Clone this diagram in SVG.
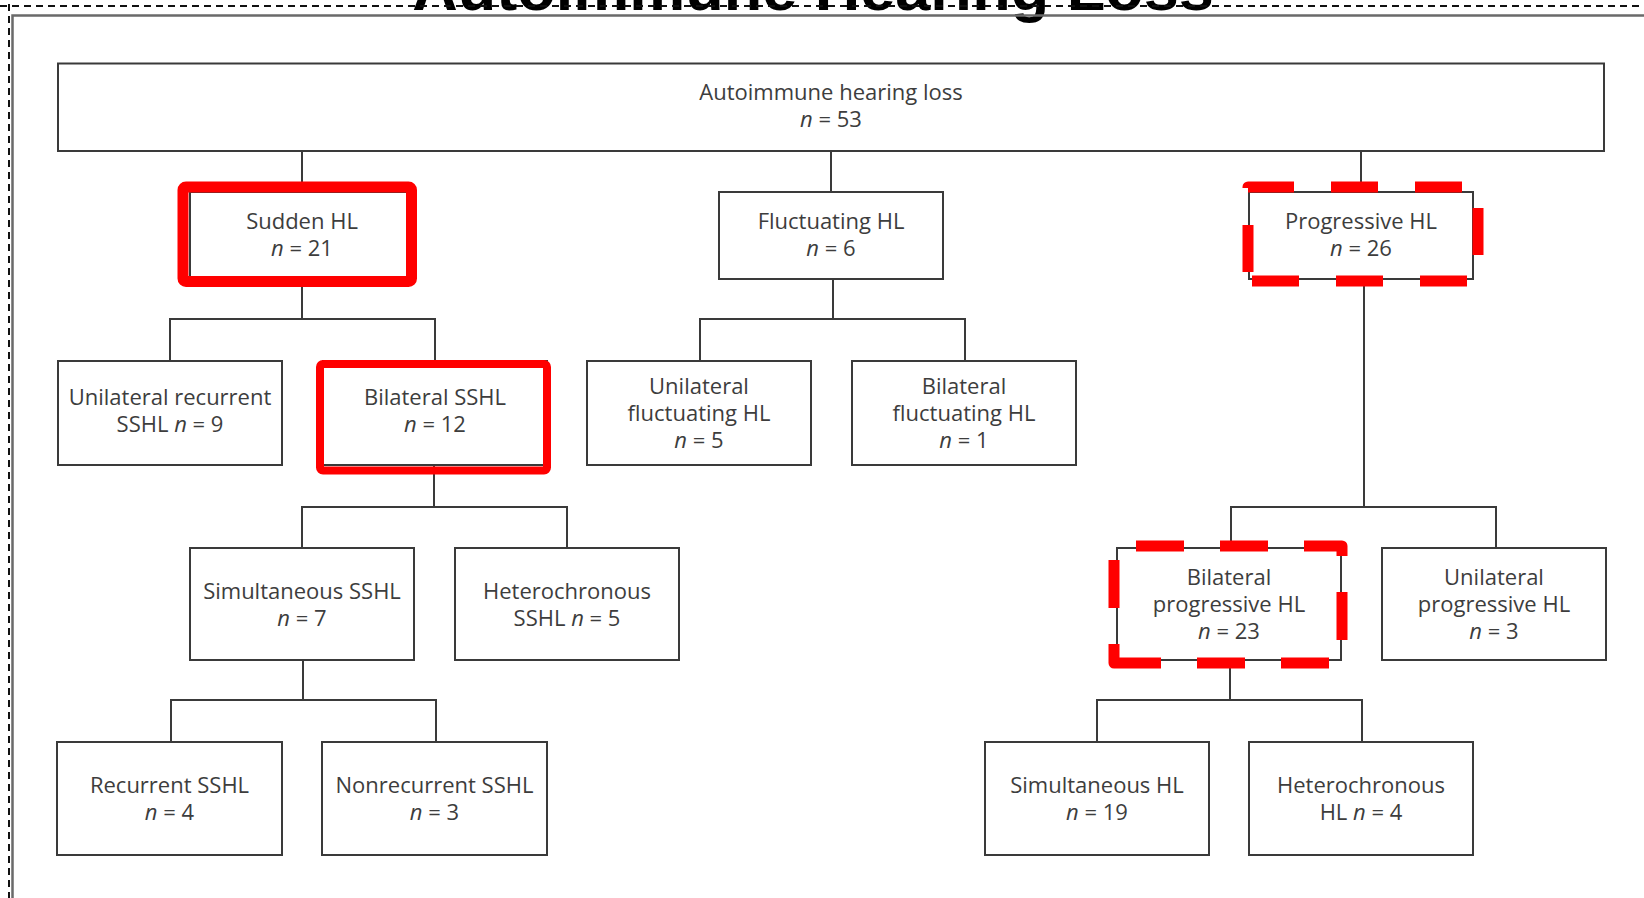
<svg xmlns="http://www.w3.org/2000/svg" width="1644" height="898" viewBox="0 0 1644 898">
<style>
  .box { fill: #ffffff; stroke: #3a3a3a; stroke-width: 2; }
  .conn { fill: none; stroke: #3a3a3a; stroke-width: 2; }
  .lbl { font-family: "Open Sans", "Noto Sans", "DejaVu Sans", sans-serif; font-size: 22px; fill: #3d3d3d; text-anchor: middle; }
  .it { font-style: italic; }
  .hl { fill: none; stroke: #ff0000; }
  .hld { fill: none; stroke: #ff0000; stroke-width: 11; stroke-linejoin: round; }
</style>
<rect x="0" y="0" width="1644" height="898" fill="#ffffff"/>
<g id="frame">
  <text x="813" y="10" font-family="Liberation Sans, Arial, sans-serif" font-size="63" font-weight="bold" fill="#000" text-anchor="middle">Autoimmune Hearing Loss</text>
  <line x1="0" y1="6" x2="1644" y2="6" stroke="#111" stroke-width="2" stroke-dasharray="7 5"/>
  <line x1="9" y1="4" x2="9" y2="898" stroke="#111" stroke-width="2" stroke-dasharray="7 5"/>
  <path d="M12.5,898 V15.5 H1644" fill="none" stroke="#6a6a6a" stroke-width="2.5"/>
</g>
<g id="connectors">
  <path class="conn" d="M302,151 V192 M831,151 V192 M1361,151 V192"/>
  <path class="conn" d="M302,279 V319 M170,361 V319 H435 V361"/>
  <path class="conn" d="M833,279 V319 M700,361 V319 H965 V361"/>
  <path class="conn" d="M1364,279 V507 M1231,548 V507 H1496 V548"/>
  <path class="conn" d="M434,465 V507 M302,548 V507 H567 V548"/>
  <path class="conn" d="M303,660 V700 M171,742 V700 H436 V742"/>
  <path class="conn" d="M1230,660 V700 M1097,742 V700 H1362 V742"/>
</g>
<g id="n-root">
  <rect class="box" x="58" y="63.5" width="1546" height="87.5"/>
  <text class="lbl" x="831" y="100">Autoimmune hearing loss</text>
  <text class="lbl" x="831" y="127"><tspan class="it">n</tspan> = 53</text>
</g>
<g id="n-sudden">
  <rect class="box" x="190" y="192" width="224" height="87"/>
  <text class="lbl" x="302" y="229">Sudden HL</text>
  <text class="lbl" x="302" y="256"><tspan class="it">n</tspan> = 21</text>
  <rect class="hl" x="183" y="187" width="228.5" height="94.5" rx="3" stroke-width="11"/>
</g>
<g id="n-fluct">
  <rect class="box" x="719" y="192" width="224" height="87"/>
  <text class="lbl" x="831" y="229">Fluctuating HL</text>
  <text class="lbl" x="831" y="256"><tspan class="it">n</tspan> = 6</text>
</g>
<g id="n-prog">
  <rect class="box" x="1249" y="192" width="224" height="87"/>
  <text class="lbl" x="1361" y="229">Progressive HL</text>
  <text class="lbl" x="1361" y="256"><tspan class="it">n</tspan> = 26</text>
  <path class="hld" d="M1248,272 V187 H1478 V281 H1248 Z" stroke-dasharray="47 37"/>
</g>
<g id="n-unirec">
  <rect class="box" x="58" y="361" width="224" height="104"/>
  <text class="lbl" x="170" y="405">Unilateral recurrent</text>
  <text class="lbl" x="170" y="432">SSHL <tspan class="it">n</tspan> = 9</text>
</g>
<g id="n-bisshl">
  <rect class="box" x="323" y="361" width="224" height="104"/>
  <text class="lbl" x="435" y="405">Bilateral SSHL</text>
  <text class="lbl" x="435" y="432"><tspan class="it">n</tspan> = 12</text>
  <rect class="hl" x="320" y="364" width="227" height="106.5" rx="3" stroke-width="8"/>
</g>
<g id="n-unifl">
  <rect class="box" x="587" y="361" width="224" height="104"/>
  <text class="lbl" x="699" y="394">Unilateral</text>
  <text class="lbl" x="699" y="421">fluctuating HL</text>
  <text class="lbl" x="699" y="448"><tspan class="it">n</tspan> = 5</text>
</g>
<g id="n-bifl">
  <rect class="box" x="852" y="361" width="224" height="104"/>
  <text class="lbl" x="964" y="394">Bilateral</text>
  <text class="lbl" x="964" y="421">fluctuating HL</text>
  <text class="lbl" x="964" y="448"><tspan class="it">n</tspan> = 1</text>
</g>
<g id="n-simsshl">
  <rect class="box" x="190" y="548" width="224" height="112"/>
  <text class="lbl" x="302" y="599">Simultaneous SSHL</text>
  <text class="lbl" x="302" y="626"><tspan class="it">n</tspan> = 7</text>
</g>
<g id="n-hetsshl">
  <rect class="box" x="455" y="548" width="224" height="112"/>
  <text class="lbl" x="567" y="599">Heterochronous</text>
  <text class="lbl" x="567" y="626">SSHL <tspan class="it">n</tspan> = 5</text>
</g>
<g id="n-biprog">
  <rect class="box" x="1117" y="548" width="224" height="112"/>
  <text class="lbl" x="1229" y="585">Bilateral</text>
  <text class="lbl" x="1229" y="612">progressive HL</text>
  <text class="lbl" x="1229" y="639"><tspan class="it">n</tspan> = 23</text>
  <path class="hld" d="M1114,663 V546 H1342 V663 Z" stroke-dasharray="48 36" stroke-dashoffset="29"/>
</g>
<g id="n-uniprog">
  <rect class="box" x="1382" y="548" width="224" height="112"/>
  <text class="lbl" x="1494" y="585">Unilateral</text>
  <text class="lbl" x="1494" y="612">progressive HL</text>
  <text class="lbl" x="1494" y="639"><tspan class="it">n</tspan> = 3</text>
</g>
<g id="n-rec">
  <rect class="box" x="57" y="742" width="225" height="113"/>
  <text class="lbl" x="169.5" y="793">Recurrent SSHL</text>
  <text class="lbl" x="169.5" y="820"><tspan class="it">n</tspan> = 4</text>
</g>
<g id="n-nonrec">
  <rect class="box" x="322" y="742" width="225" height="113"/>
  <text class="lbl" x="434.5" y="793">Nonrecurrent SSHL</text>
  <text class="lbl" x="434.5" y="820"><tspan class="it">n</tspan> = 3</text>
</g>
<g id="n-simhl">
  <rect class="box" x="985" y="742" width="224" height="113"/>
  <text class="lbl" x="1097" y="793">Simultaneous HL</text>
  <text class="lbl" x="1097" y="820"><tspan class="it">n</tspan> = 19</text>
</g>
<g id="n-hethl">
  <rect class="box" x="1249" y="742" width="224" height="113"/>
  <text class="lbl" x="1361" y="793">Heterochronous</text>
  <text class="lbl" x="1361" y="820">HL <tspan class="it">n</tspan> = 4</text>
</g>
</svg>
